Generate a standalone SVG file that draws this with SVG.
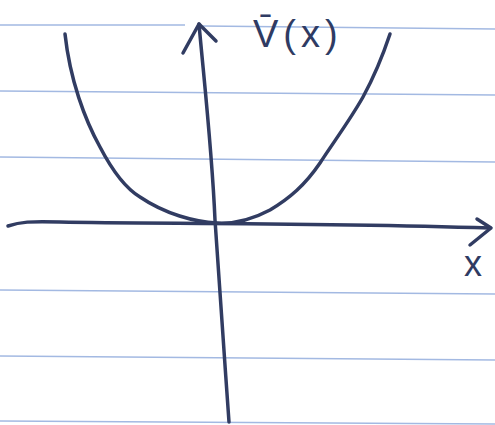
<svg xmlns="http://www.w3.org/2000/svg" width="495" height="425" viewBox="0 0 495 425">
<style>
.rule{stroke:#a3b9e2;stroke-width:1.7;fill:none}
.ink{stroke:#313c62;stroke-width:3.5;fill:none;stroke-linecap:round;stroke-linejoin:round}
.lbl{font-family:"Liberation Sans",Arial,sans-serif;fill:#2f3b63}
</style>
<rect width="495" height="425" fill="#ffffff"/>
<g id="paper">
<path class="rule" d="M0 25 L185 25 M203 26 L495 29"/>
<path class="rule" d="M0 91 L495 95"/>
<path class="rule" d="M0 157 L495 162"/>
<path class="rule" d="M0 290 L495 294"/>
<path class="rule" d="M0 356 L495 360"/>
<path class="rule" d="M0 421 L495 424"/>
</g>
<g id="connectors">
<path id="x-axis" class="ink" d="M8 226 C20 222 30 221 60 222 C150 224 300 222 490 228"/>
<path class="ink" d="M477 219 L491 228 L470 245"/>
<path id="y-axis" class="ink" d="M229 422 C224 350 218 270 215 220 C212 150 204 80 199 24"/>
<path class="ink" d="M183 53 L199 24 L216 41"/>
</g>
<g id="curve">
<path class="ink" d="M65 34 C70 80 85 120 100 147 C112 170 125 188 140 197 C165 214 195 222 217 223 C235 224 255 218 270 210 C290 198 305 185 320 163 C335 140 350 120 363 97 C375 75 383 55 390 34"/>
</g>
<g id="label-V">
<text class="lbl" x="253" y="47" font-size="38" letter-spacing="5">V̄(x)</text>
</g>
<g id="label-x">
<text class="lbl" x="464" y="276" font-size="36">x</text>
</g>
</svg>
